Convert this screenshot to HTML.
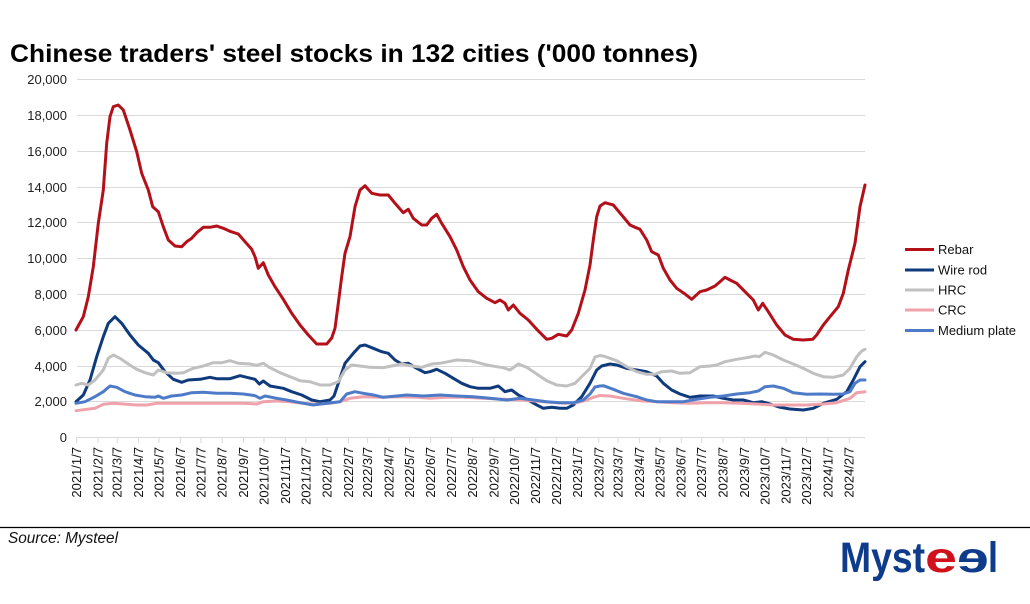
<!DOCTYPE html>
<html>
<head>
<meta charset="utf-8">
<style>
  html,body{margin:0;padding:0;background:#fff;}
  svg{display:block;}
  text{font-family:"Liberation Sans",Arial,sans-serif;}
</style>
</head>
<body>
<svg width="1030" height="604" viewBox="0 0 1030 604" xmlns="http://www.w3.org/2000/svg">
  <rect width="1030" height="604" fill="#fff"/>
  <!-- Title -->
  <text x="10" y="62" font-size="25" font-weight="bold" fill="#000" textLength="688" lengthAdjust="spacingAndGlyphs">Chinese traders' steel stocks in 132 cities ('000 tonnes)</text>

  <!-- Gridlines -->
  <g stroke="#d9d9d9" stroke-width="1">
    <line x1="77" x2="865" y1="79.5" y2="79.5"/>
    <line x1="77" x2="865" y1="115.5" y2="115.5"/>
    <line x1="77" x2="865" y1="151.5" y2="151.5"/>
    <line x1="77" x2="865" y1="187.5" y2="187.5"/>
    <line x1="77" x2="865" y1="222.5" y2="222.5"/>
    <line x1="77" x2="865" y1="258.5" y2="258.5"/>
    <line x1="77" x2="865" y1="294.5" y2="294.5"/>
    <line x1="77" x2="865" y1="330.5" y2="330.5"/>
    <line x1="77" x2="865" y1="366.5" y2="366.5"/>
    <line x1="77" x2="865" y1="401.5" y2="401.5"/>
    <line x1="77" x2="865" y1="437.5" y2="437.5"/>
  </g>

  <!-- Y labels -->
  <g font-size="13" fill="#222" text-anchor="end">
    <text x="67" y="84">20,000</text>
    <text x="67" y="120">18,000</text>
    <text x="67" y="156">16,000</text>
    <text x="67" y="192">14,000</text>
    <text x="67" y="227">12,000</text>
    <text x="67" y="263">10,000</text>
    <text x="67" y="299">8,000</text>
    <text x="67" y="335">6,000</text>
    <text x="67" y="371">4,000</text>
    <text x="67" y="406">2,000</text>
    <text x="67" y="442">0</text>
  </g>

  <!-- X ticks -->
  <g stroke="#d9d9d9" stroke-width="1">
    <line x1="76.7" x2="76.7" y1="437" y2="443"/>
    <line x1="98" x2="98" y1="437" y2="443"/>
    <line x1="117.2" x2="117.2" y1="437" y2="443"/>
    <line x1="138.4" x2="138.4" y1="437" y2="443"/>
    <line x1="159" x2="159" y1="437" y2="443"/>
    <line x1="180.3" x2="180.3" y1="437" y2="443"/>
    <line x1="200.9" x2="200.9" y1="437" y2="443"/>
    <line x1="222.2" x2="222.2" y1="437" y2="443"/>
    <line x1="243.4" x2="243.4" y1="437" y2="443"/>
    <line x1="264" x2="264" y1="437" y2="443"/>
    <line x1="285.3" x2="285.3" y1="437" y2="443"/>
    <line x1="305.9" x2="305.9" y1="437" y2="443"/>
    <line x1="327.1" x2="327.1" y1="437" y2="443"/>
    <line x1="348.4" x2="348.4" y1="437" y2="443"/>
    <line x1="367.6" x2="367.6" y1="437" y2="443"/>
    <line x1="388.9" x2="388.9" y1="437" y2="443"/>
    <line x1="409.5" x2="409.5" y1="437" y2="443"/>
    <line x1="430.7" x2="430.7" y1="437" y2="443"/>
    <line x1="451.3" x2="451.3" y1="437" y2="443"/>
    <line x1="472.6" x2="472.6" y1="437" y2="443"/>
    <line x1="493.9" x2="493.9" y1="437" y2="443"/>
    <line x1="514.4" x2="514.4" y1="437" y2="443"/>
    <line x1="535.7" x2="535.7" y1="437" y2="443"/>
    <line x1="556.3" x2="556.3" y1="437" y2="443"/>
    <line x1="577.6" x2="577.6" y1="437" y2="443"/>
    <line x1="598.8" x2="598.8" y1="437" y2="443"/>
    <line x1="618" x2="618" y1="437" y2="443"/>
    <line x1="639.3" x2="639.3" y1="437" y2="443"/>
    <line x1="659.9" x2="659.9" y1="437" y2="443"/>
    <line x1="681.2" x2="681.2" y1="437" y2="443"/>
    <line x1="701.7" x2="701.7" y1="437" y2="443"/>
    <line x1="723" x2="723" y1="437" y2="443"/>
    <line x1="744.3" x2="744.3" y1="437" y2="443"/>
    <line x1="764.9" x2="764.9" y1="437" y2="443"/>
    <line x1="786.1" x2="786.1" y1="437" y2="443"/>
    <line x1="806.7" x2="806.7" y1="437" y2="443"/>
    <line x1="828" x2="828" y1="437" y2="443"/>
    <line x1="849.2" x2="849.2" y1="437" y2="443"/>
  </g>

  <!-- X labels -->
  <g font-size="13" fill="#111" text-anchor="end">
    <text transform="translate(81.2,447) rotate(-90)">2021/1/7</text>
    <text transform="translate(102.5,447) rotate(-90)">2021/2/7</text>
    <text transform="translate(121.7,447) rotate(-90)">2021/3/7</text>
    <text transform="translate(142.9,447) rotate(-90)">2021/4/7</text>
    <text transform="translate(163.5,447) rotate(-90)">2021/5/7</text>
    <text transform="translate(184.8,447) rotate(-90)">2021/6/7</text>
    <text transform="translate(205.4,447) rotate(-90)">2021/7/7</text>
    <text transform="translate(226.7,447) rotate(-90)">2021/8/7</text>
    <text transform="translate(247.9,447) rotate(-90)">2021/9/7</text>
    <text transform="translate(268.5,447) rotate(-90)">2021/10/7</text>
    <text transform="translate(289.8,447) rotate(-90)">2021/11/7</text>
    <text transform="translate(310.4,447) rotate(-90)">2021/12/7</text>
    <text transform="translate(331.6,447) rotate(-90)">2022/1/7</text>
    <text transform="translate(352.9,447) rotate(-90)">2022/2/7</text>
    <text transform="translate(372.1,447) rotate(-90)">2022/3/7</text>
    <text transform="translate(393.4,447) rotate(-90)">2022/4/7</text>
    <text transform="translate(414,447) rotate(-90)">2022/5/7</text>
    <text transform="translate(435.2,447) rotate(-90)">2022/6/7</text>
    <text transform="translate(455.8,447) rotate(-90)">2022/7/7</text>
    <text transform="translate(477.1,447) rotate(-90)">2022/8/7</text>
    <text transform="translate(498.4,447) rotate(-90)">2022/9/7</text>
    <text transform="translate(518.9,447) rotate(-90)">2022/10/7</text>
    <text transform="translate(540.2,447) rotate(-90)">2022/11/7</text>
    <text transform="translate(560.8,447) rotate(-90)">2022/12/7</text>
    <text transform="translate(582.1,447) rotate(-90)">2023/1/7</text>
    <text transform="translate(603.3,447) rotate(-90)">2023/2/7</text>
    <text transform="translate(622.5,447) rotate(-90)">2023/3/7</text>
    <text transform="translate(643.8,447) rotate(-90)">2023/4/7</text>
    <text transform="translate(664.4,447) rotate(-90)">2023/5/7</text>
    <text transform="translate(685.7,447) rotate(-90)">2023/6/7</text>
    <text transform="translate(706.2,447) rotate(-90)">2023/7/7</text>
    <text transform="translate(727.5,447) rotate(-90)">2023/8/7</text>
    <text transform="translate(748.8,447) rotate(-90)">2023/9/7</text>
    <text transform="translate(769.4,447) rotate(-90)">2023/10/7</text>
    <text transform="translate(790.6,447) rotate(-90)">2023/11/7</text>
    <text transform="translate(811.2,447) rotate(-90)">2023/12/7</text>
    <text transform="translate(832.5,447) rotate(-90)">2024/1/7</text>
    <text transform="translate(853.7,447) rotate(-90)">2024/2/7</text>
  </g>

  <!-- Series -->
  <g fill="none" stroke-width="3" stroke-linejoin="round" stroke-linecap="round">
    <polyline stroke="#b3101a" points="76,330 83.3,316.7 88.3,296.7 93.3,266.7 98.3,223.3 103.3,190 106.7,143.3 110,116.7 113.3,106.7 118.3,105 123.3,110 130,130 136.7,151.7 141.7,173.3 148.3,190 152.7,206.7 158.3,211.7 163.3,226.7 168.3,240 175,246 181.7,246.7 186.7,241.7 191.7,238.3 196.7,232.7 203.3,227.3 210,227.3 216.7,226 223.3,228.3 230,231.3 238.3,234 245,241.7 251.7,249.3 255,256.7 258.3,268.3 263.3,262.7 268.3,275 275,286.7 283.3,299.3 291.7,313.3 300,325 308.3,335 316.7,344 326.7,344 331.7,338 335,328.3 338.3,303.3 341.7,276.7 345,253.3 350,236.7 355,206.7 360,190 365,185.7 371.7,193.3 380,195 388.3,195 395,203.3 403.3,212.7 408.3,209.3 413.3,218.3 421.7,225 426.7,225 431.7,218.3 436.7,214.3 441.7,223.3 450,236.7 456.7,250 463.3,266.7 470,280 478.3,291.7 486.7,298.3 495,302.7 500,300 505,303.3 508.3,310 513.3,305 520,313.3 528.3,320 536.7,329.3 546.7,339.3 551.7,338.3 558.3,334.3 566.7,336 571.7,330 578.3,313.3 585,290 590,265 593.3,240 596.7,216.7 600,206 605,202.7 613.3,205 621.7,215 630,225 635,227.3 640,229.3 646.7,240 651.7,251.7 658.3,255 663.3,268.3 670,280 676.7,288.3 685,294 691.7,299.3 700,291.7 706.7,290 715,286 720,281.7 725,277.3 730,280 736.7,283.3 745,291.7 753.3,300 758.3,310 762.7,303.3 768.3,311.7 776.7,325 785,335 793.3,339.3 803.3,340 812.7,339.3 816.7,335 823.3,325 830,316.7 838.3,306.7 843.3,293.3 848.3,270 855,243.3 860,206.7 865,185"/>
    <polyline stroke="#0f3a7c" points="76,401.7 83.3,395 90,380 96.7,356.7 103.3,336.7 108.3,323.3 115,316.7 121.7,323.3 130,335 138.3,345 148.3,353.3 153.3,360 158.3,362.7 165,371.7 173.3,379.3 181.7,382.3 188.3,380 200,379.3 210,377.3 216.7,378.7 230,378.7 240,375.7 246.7,377.3 255,379.3 259.3,384 263.3,381 270,386 283.3,388.3 291.7,391.7 301.7,395 311.7,400 320,401.7 330,400 334,396 338.3,383.3 345,363.3 353.3,353.3 360,346 365,345 373.3,348.3 381.7,351.7 388.3,353.3 395,360 401.7,364 408.3,363.3 416.7,368.3 425,372.7 430,371.7 436.7,369.3 445,373.3 453.3,378.3 461.7,383.3 470,386.7 478.3,388.3 490,388.3 498.3,386 505,391.7 511.7,390 518.3,395 526.7,399.3 535,404 543.3,408.3 551.7,407.3 560,408.3 566.7,408.3 573.3,405 581.7,396.7 590,383.3 596.7,370 601.7,366 610,364 616.7,365 626.7,368.3 636.7,370 646.7,371.7 656.7,376 663.3,383.3 671.7,390 680,394 690,397.3 700,396 713.3,396 723.3,398.3 733.3,400 743.3,400 753.3,402.7 761.7,401.7 770,404 780,407.3 790,409 803.3,410 813.3,408.3 823.3,403.3 836.7,399.3 846.7,391.7 853.3,380 860,366.7 865,361.7"/>
    <polyline stroke="#c0c0c0" points="76,385 81.7,383.3 88.3,385 95,380 103.3,370 108.3,358.3 113.3,355 120,358.3 128.3,364 136.7,369.3 145,372.7 153.3,375 158.3,370 166.7,372.7 176.7,373.3 183.3,372.7 193.3,368.3 203.3,366 213.3,362.7 221.7,362.7 230,360.7 238.3,363.3 250,364 256.7,365.3 263.3,363.3 270,367.7 280,372.7 290,376.7 300,380.7 310,381.7 320,385 330,385 338.3,381.7 345,370 351.7,365 360,366 370,367.3 383.3,367.7 391.7,366 401.7,364 411.7,366 421.7,367.3 431.7,364 440,363.3 448.3,361.7 456.7,360 470,360.7 478.3,362.7 486.7,365 496.7,366.7 503.3,367.7 510,370 518.3,364 526.7,367.3 536.7,374 546.7,380.7 556.7,385 566.7,386 575,383.3 583.3,375 590,368.3 595,357 600,355.5 603.3,356 610,358.3 616.7,360.7 626.7,366.7 636.7,371.7 646.7,374.3 655,374.3 661.7,371.7 671.7,371 680,373.3 690,372.7 700,366.7 710,366 716.7,365 725,361.7 736.7,359.3 746.7,357.7 755,356 759.3,356.7 765,352.3 773.3,355 783.3,360 793.3,364 803.3,368.3 813.3,373.3 823.3,376.7 833.3,377.3 843.3,375 850,368.3 856.7,356.7 861.7,351 865,349.3"/>
    <polyline stroke="#f0a2ab" points="76,410.7 86.7,409.3 95,408.3 103.3,404.3 113.3,403.3 123.3,404 136.7,405 146.7,405 156.7,403.3 170,403.3 186.7,403.3 203.3,403.3 223.3,403.3 243.3,403.3 256.7,404 263.3,401.7 276.7,401 290,401.7 303.3,403.3 316.7,404.3 330,403.3 340,401.7 350,398.3 363.3,396.7 380,397.3 396.7,396.7 416.7,397.3 430,398.3 446.7,397.3 463.3,397.3 483.3,398.3 503.3,399.3 523.3,400 543.3,401.7 563.3,403.3 576.7,402.7 586.7,400 593.3,397.3 600,395.5 610,396 623.3,398.3 640,400.7 656.7,401.7 673.3,402.7 690,403.3 706.7,402.7 723.3,402.7 740,403.3 756.7,404 773.3,405 790,405 806.7,405 823.3,404 836.7,402.7 850,398.3 856.7,392.7 865,391.7"/>
    <polyline stroke="#4e7bc8" points="76,403.3 85,401.7 95,396.7 103.3,391.7 110,386 116.7,387.3 125,391.7 135,395 145,396.7 155,397.3 158.3,396 163.3,398.3 171.7,396 181.7,395 191.7,392.7 203.3,392.3 216.7,393.3 230,393.3 243.3,394 255,395.7 260,398.3 265,396 276.7,398.3 286.7,400 300,402.7 313.3,405 326.7,403.3 340,401.7 346.7,394 355,391.7 363.3,393.3 373.3,395 383.3,397.3 396.7,396 406.7,395 423.3,396 440,395 456.7,396 473.3,396.7 490,398.3 506.7,400 520,398.3 533.3,400 546.7,401.7 560,402.7 573.3,402.7 583.3,400 590,394 595,387 600,386 603.3,385.7 613.3,389.3 623.3,393.3 636.7,396.7 646.7,400 656.7,401.7 670,401.7 683.3,401.7 696.7,399.3 710,397.3 723.3,396 736.7,394 750,392.7 758.3,391 765,386.7 773.3,386 783.3,388.3 793.3,392.7 806.7,394.3 820,394 833.3,394.3 843.3,394 850,391.7 855,383.3 860,380 865,380"/>
  </g>

  <!-- Legend -->
  <g stroke-width="3">
    <line x1="905" x2="934" y1="249.5" y2="249.5" stroke="#b3101a"/>
    <line x1="905" x2="934" y1="270" y2="270" stroke="#0f3a7c"/>
    <line x1="905" x2="934" y1="290" y2="290" stroke="#c0c0c0"/>
    <line x1="905" x2="934" y1="310" y2="310" stroke="#f0a2ab"/>
    <line x1="905" x2="934" y1="330.5" y2="330.5" stroke="#4e7bc8"/>
  </g>
  <g font-size="13" fill="#111">
    <text x="938" y="254">Rebar</text>
    <text x="938" y="274.5">Wire rod</text>
    <text x="938" y="294.5">HRC</text>
    <text x="938" y="314.5">CRC</text>
    <text x="938" y="335">Medium plate</text>
  </g>

  <!-- Footer -->
  <line x1="0" x2="1030" y1="527.5" y2="527.5" stroke="#000" stroke-width="1.3"/>
  <text x="8" y="543" font-size="16" font-style="italic" fill="#111" textLength="110" lengthAdjust="spacingAndGlyphs">Source: Mysteel</text>

  <!-- Logo -->
  <g font-weight="bold" font-size="43">
    <text x="840" y="572" fill="#0e3c8a" textLength="85" lengthAdjust="spacingAndGlyphs">Myst</text>
    <text x="925" y="572" fill="#d0111b" textLength="32" lengthAdjust="spacingAndGlyphs">e</text>
    <text transform="translate(989,572) scale(-1,1)" fill="#0e3c8a" textLength="32" lengthAdjust="spacingAndGlyphs">e</text>
    <text x="988" y="572" fill="#0e3c8a" textLength="10" lengthAdjust="spacingAndGlyphs">l</text>
  </g>
</svg>
</body>
</html>
